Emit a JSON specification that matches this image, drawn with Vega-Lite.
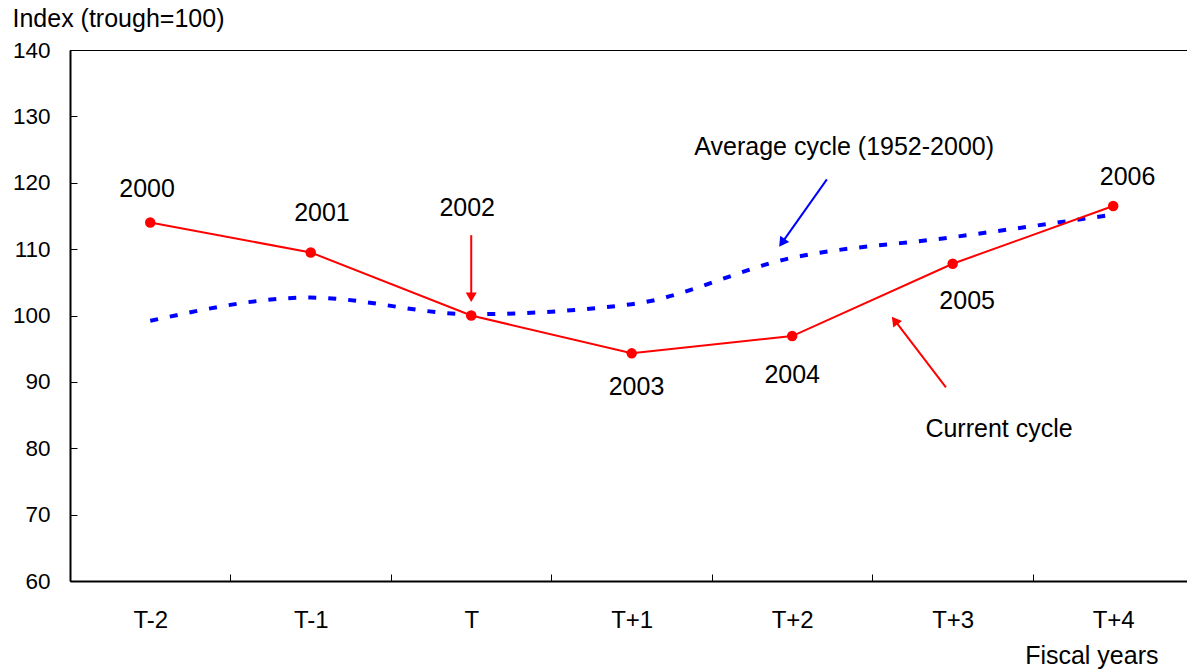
{
  "$schema": "https://vega.github.io/schema/vega-lite/v6.json",
  "width": 1117,
  "height": 531,
  "autosize": {"type": "none"},
  "padding": {"left": 70, "top": 50, "right": 0, "bottom": 89},
  "background": "white",
  "config": {
    "view": {"stroke": "black", "strokeWidth": 1},
    "font": "Liberation Sans",
    "text": {"font": "Liberation Sans"}
  },
  "datasets": {
    "series": [
      {"series": "current", "x": 0, "y": 114.0},
      {"series": "current", "x": 1, "y": 109.5},
      {"series": "current", "x": 2, "y": 100.0},
      {"series": "current", "x": 3, "y": 94.3},
      {"series": "current", "x": 4, "y": 96.9},
      {"series": "current", "x": 5, "y": 107.8},
      {"series": "current", "x": 6, "y": 116.5},
      {"series": "average", "x": 0, "y": 99.2},
      {"series": "average", "x": 1, "y": 102.7},
      {"series": "average", "x": 2, "y": 100.2},
      {"series": "average", "x": 3, "y": 101.7},
      {"series": "average", "x": 4, "y": 108.7},
      {"series": "average", "x": 5, "y": 111.8},
      {"series": "average", "x": 6, "y": 115.2}
    ],
    "notes": [
      {"kind": "year", "text": "2000", "x": -0.02, "y": 117.85},
      {"kind": "year", "text": "2001", "x": 1.07, "y": 114.28},
      {"kind": "year", "text": "2002", "x": 1.975, "y": 115.0},
      {"kind": "year", "text": "2003", "x": 3.03, "y": 88.0},
      {"kind": "year", "text": "2004", "x": 4.0, "y": 89.8},
      {"kind": "year", "text": "2005", "x": 5.09, "y": 101.0},
      {"kind": "year", "text": "2006", "x": 6.09, "y": 119.7},
      {"kind": "caption", "text": "Average cycle (1952-2000)", "x": 3.39, "y": 124.2},
      {"kind": "caption", "text": "Current cycle", "x": 4.83, "y": 81.7}
    ],
    "arrows": [
      {"arrow": "a2002", "series": "current", "x": 2.0, "y": 112.1, "x2": 2.0, "y2": 102.76},
      {"arrow": "avg", "series": "average", "x": 4.216, "y": 120.52, "x2": 3.936, "y2": 110.95},
      {"arrow": "cur", "series": "current", "x": 4.958, "y": 89.18, "x2": 4.639, "y2": 99.25}
    ],
    "heads": [
      {"arrow": "a2002", "series": "current", "x": 2.0, "y": 102.76},
      {"arrow": "avg", "series": "average", "x": 3.936, "y": 110.95},
      {"arrow": "cur", "series": "current", "x": 4.639, "y": 99.25}
    ]
  },
  "encoding": {
    "x": {
      "field": "x",
      "type": "quantitative",
      "scale": {"domain": [-0.5, 6.46], "nice": false, "zero": false},
      "axis": {
        "values": [-0.5, 0, 0.5, 1, 1.5, 2, 2.5, 3, 3.5, 4, 4.5, 5, 5.5, 6],
        "labelExpr": "datum.value % 1 === 0 ? ['T-2','T-1','T','T+1','T+2','T+3','T+4'][datum.value] : ''",
        "tickOpacity": {"condition": {"test": "datum.value % 1 !== 0", "value": 1}, "value": 0},
        "tickSize": -7,
        "tickColor": "black",
        "tickWidth": 1,
        "domainColor": "black",
        "domainWidth": 2,
        "grid": false,
        "labelFontSize": 24,
        "labelColor": "black",
        "labelBaseline": "alphabetic",
        "labelPadding": 53,
        "labelOverlap": false,
        "labelFlush": false,
        "title": "Fiscal years",
        "titleFontSize": 25,
        "titleFontWeight": "normal",
        "titleColor": "black",
        "titleAlign": "right",
        "titleAnchor": "start",
        "titleX": 1088,
        "titleY": 82,
        "titleBaseline": "alphabetic"
      }
    },
    "y": {
      "field": "y",
      "type": "quantitative",
      "scale": {"domain": [60, 140], "nice": false, "zero": false},
      "axis": {
        "values": [60, 70, 80, 90, 100, 110, 120, 130, 140],
        "tickSize": -7,
        "tickColor": "black",
        "tickWidth": 1,
        "domainColor": "black",
        "domainWidth": 2,
        "grid": false,
        "labelFontSize": 22.5,
        "labelColor": "black",
        "labelPadding": 27,
        "labelOverlap": false,
        "labelFlush": false,
        "title": "Index (trough=100)",
        "titleFontSize": 25,
        "titleFontWeight": "normal",
        "titleColor": "black",
        "titleAngle": 0,
        "titleAlign": "left",
        "titleAnchor": "end",
        "titleX": -58,
        "titleY": -24,
        "titleBaseline": "alphabetic"
      }
    }
  },
  "layer": [
    {
      "data": {"name": "series"},
      "transform": [{"filter": "datum.series === 'average'"}],
      "mark": {"type": "line", "color": "#0000ff", "strokeWidth": 4, "strokeDash": [8, 12], "interpolate": "monotone"}
    },
    {
      "data": {"name": "series"},
      "transform": [{"filter": "datum.series === 'current'"}],
      "mark": {"type": "line", "color": "#ff0000", "strokeWidth": 2}
    },
    {
      "data": {"name": "series"},
      "transform": [{"filter": "datum.series === 'current'"}],
      "mark": {"type": "point", "filled": true, "color": "#ff0000", "opacity": 1, "size": 110}
    },
    {
      "data": {"name": "arrows"},
      "mark": {"type": "rule", "strokeWidth": 2},
      "encoding": {
        "x2": {"field": "x2"},
        "y2": {"field": "y2"},
        "color": {"field": "series", "type": "nominal", "scale": {"domain": ["current", "average"], "range": ["#ff0000", "#0000ff"]}, "legend": null}
      }
    },
    {
      "data": {"name": "heads"},
      "transform": [{"filter": "datum.arrow === 'a2002'"}],
      "mark": {"type": "point", "shape": "triangle-down", "filled": true, "opacity": 1, "size": 121, "color": "#ff0000"}
    },
    {
      "data": {"name": "heads"},
      "transform": [{"filter": "datum.arrow === 'avg'"}],
      "mark": {"type": "point", "shape": "triangle-up", "angle": 215.3, "filled": true, "opacity": 1, "size": 121, "color": "#0000ff"}
    },
    {
      "data": {"name": "heads"},
      "transform": [{"filter": "datum.arrow === 'cur'"}],
      "mark": {"type": "point", "shape": "triangle-up", "angle": 322.6, "filled": true, "opacity": 1, "size": 121, "color": "#ff0000"}
    },
    {
      "data": {"name": "notes"},
      "transform": [{"filter": "datum.kind === 'year'"}],
      "mark": {"type": "text", "align": "center", "baseline": "alphabetic", "fontSize": 25, "color": "black"},
      "encoding": {"text": {"field": "text"}}
    },
    {
      "data": {"name": "notes"},
      "transform": [{"filter": "datum.kind === 'caption'"}],
      "mark": {"type": "text", "align": "left", "baseline": "alphabetic", "fontSize": 25, "color": "black"},
      "encoding": {"text": {"field": "text"}}
    }
  ]
}
